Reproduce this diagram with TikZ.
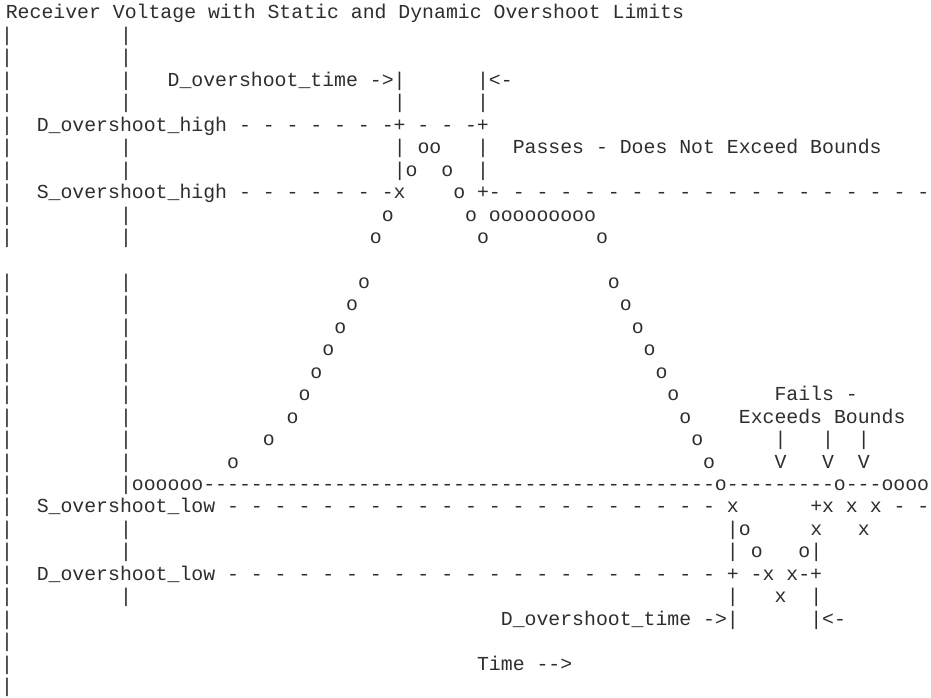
\documentclass[tikz,border=0pt]{standalone}
\usepackage{fontspec}
\setmonofont{Liberation Mono}
\ExplSyntaxOn
\cs_new:Npn \asciirep #1#2 { \prg_replicate:nn {#1} {#2} }
\ExplSyntaxOff
\begin{document}
\begin{tikzpicture}[txt/.style={anchor=base west, inner sep=0pt, outer sep=0pt,
    font=\ttfamily\fontsize{19.83pt}{22pt}\selectfont, text=black!82}]
\useasboundingbox (0pt,0pt) rectangle (931pt,-698pt);
\fill[white] (0pt,0pt) rectangle (931pt,-698pt);
\begin{scope}[shift={(1.05pt,-19pt)}, x=11.9pt, y=-22.45pt]
% title
\node[txt] (title) at (0.4,0) {Receiver Voltage with Static and Dynamic Overshoot Limits};
% left axis
\foreach \r in {1,2,3,4,5,6,7,8,9,10,12,13,14,15,16,17,18,19,20,21,22,23,24,25,26,27,28,29,30}
  \node[txt] (axl\r) at (0,\r) {|};
% inner axis
\foreach \r in {1,2,3,4,6,7,9,10,12,13,14,15,16,17,18,19,20,23,24,26}
  \node[txt] (axi\r) at (10,\r) {|};
% upper dynamic window
\node[txt] (dtimeA) at (14,3) {D\_overshoot\_time ->|};
\node[txt] (dtimeB) at (40,3) {|<-};
\node[txt] (r4a) at (33,4) {|};
\node[txt] (r4b) at (40,4) {|};
\node[txt] (dhigh) at (3,5) {D\_overshoot\_high - - - - - - -+ - - -+};
\node[txt] (r6a) at (33,6) {| oo};
\node[txt] (r6b) at (40,6) {|};
\node[txt] (pass) at (43,6) {Passes - Does Not Exceed Bounds};
\node[txt] (r7a) at (33,7) {|o};
\node[txt] (r7b) at (37,7) {o};
\node[txt] (r7c) at (40,7) {|};
\node[txt] (shigh) at (3,8) {S\_overshoot\_high - - - - - - -x};
\node[txt] (r8b) at (38,8) {o};
\node[txt] (r8c) at (40,8) {+-\asciirep{18}{\ -}};
\node[txt] (r9a) at (32,9) {o};
\node[txt] (r9b) at (39,9) {o ooooooooo};
\node[txt] (r10a) at (31,10) {o};
\node[txt] (r10b) at (40,10) {o};
\node[txt] (r10c) at (50,10) {o};
% slopes
\foreach \r/\c in {12/30,13/29,14/28,15/27,16/26,17/25,18/24,19/22,20/19}
  \node[txt] (up\r) at (\c,\r) {o};
\foreach \r in {12,...,20}
  \node[txt] (dn\r) at (\r+39,\r) {o};
% fails note
\node[txt] (fail1) at (65,17) {Fails -};
\node[txt] (fail2) at (62,18) {Exceeds Bounds};
\foreach \c in {65,69,72} {
  \node[txt] (fb\c) at (\c,19) {|};
  \node[txt] (fv\c) at (\c,20) {V};
}
% baseline
\node[txt] (base) at (10,21) {|oooooo\asciirep{43}{-}o\asciirep{9}{-}o---oooo};
% lower limits
\node[txt] (slow) at (3,22) {S\_overshoot\_low\asciirep{21}{\ -}\ x};
\node[txt] (r22b) at (68,22) {+x x x - -};
\node[txt] (r23a) at (61,23) {|o};
\node[txt] (r23b) at (68,23) {x};
\node[txt] (r23c) at (72,23) {x};
\node[txt] (r24a) at (61,24) {|};
\node[txt] (r24b) at (63,24) {o};
\node[txt] (r24c) at (67,24) {o|};
\node[txt] (dlow) at (3,25) {D\_overshoot\_low\asciirep{21}{\ -}\ + -x x-+};
\node[txt] (r26a) at (61,26) {|};
\node[txt] (r26b) at (65,26) {x};
\node[txt] (r26c) at (68,26) {|};
\node[txt] (dtimeC) at (42,27) {D\_overshoot\_time ->|};
\node[txt] (dtimeD) at (68,27) {|<-};
\node[txt] (time) at (40,29) {Time -->};
\end{scope}
\end{tikzpicture}
\end{document}
